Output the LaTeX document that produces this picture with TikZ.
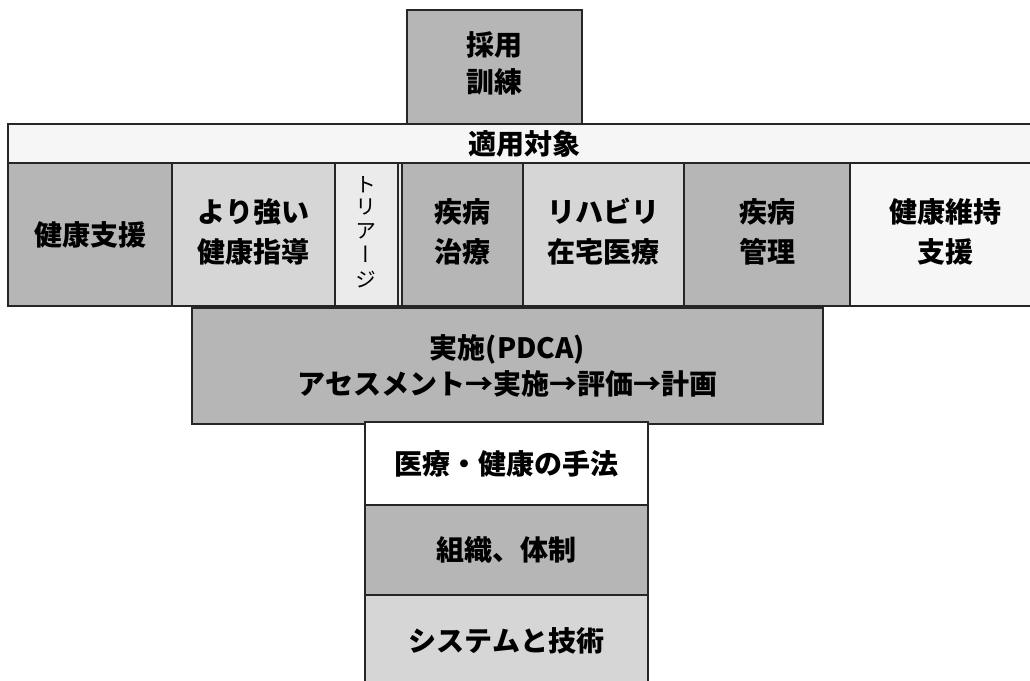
\documentclass[tikz,border=0pt]{standalone}
\usepackage{fontspec}
\newfontfamily\jp{Noto Sans CJK JP}
\newfontfamily\jpv{Noto Sans CJK JP}[RawFeature=+vert]
\definecolor{gmid}{HTML}{B6B6B6}
\definecolor{glight}{HTML}{D6D6D6}
\definecolor{gpale}{HTML}{EBEBEB}
\definecolor{gwhite}{HTML}{F6F6F6}
\definecolor{edge}{HTML}{262626}
\begin{document}
\begin{tikzpicture}[x=1pt,y=-1pt,
  box/.style={draw=edge, line width=1.6pt, inner sep=0pt, align=center,
    font=\jp\bfseries\fontsize{28}{40}\selectfont},
  midbox/.style={box, fill=gmid},
  lightbox/.style={box, fill=glight},
  palebox/.style={box, fill=gpale},
  whitebox/.style={box, fill=gwhite}]
\useasboundingbox (0,0) rectangle (1030,680);
\clip (0,0) rectangle (1030,680);
\fill[fill=white] (0,0) rectangle (1030,680);
% top box
\node[midbox, minimum width=175pt, minimum height=114pt,
  font=\jp\bfseries\fontsize{28}{37}\selectfont] (top) at (494.5,67)
  {\raisebox{-3pt}{\begin{tabular}{@{}c@{}}採用\\訓練\end{tabular}}};
% header
\node[whitebox, minimum width=1032pt, minimum height=39pt] (head) at (524,143.5) {適用対象};
% cells
\node[midbox, minimum width=164pt, minimum height=143pt] (c1) at (90,234.5) {\raisebox{-4pt}{健康支援}};
\node[lightbox, minimum width=163pt, minimum height=143pt] (c2) at (253.5,234.5)
  {\raisebox{-4pt}{\begin{tabular}{@{}c@{}}より強い\\健康指導\end{tabular}}};
\node[palebox, minimum width=67pt, minimum height=143pt,
  font=\jpv\fontsize{21}{26}\selectfont] (tri) at (368.5,234.5)
  {\hspace*{-5pt}\raisebox{-2pt}{\begin{tabular}{@{}c@{}}ト\\[-4pt]リ\\[-2pt]ア\\[-2pt]ー\\[-1pt]ジ\end{tabular}}};
\draw[edge, line width=1.6pt] ([xshift=-5pt]tri.north east) -- ([xshift=-5pt]tri.south east);
\node[midbox, minimum width=121pt, minimum height=143pt] (c4) at (462.5,234.5)
  {\raisebox{-4pt}{\begin{tabular}{@{}c@{}}疾病\\治療\end{tabular}}};
\node[lightbox, minimum width=161pt, minimum height=143pt] (c5) at (603.5,234.5)
  {\raisebox{-4pt}{\begin{tabular}{@{}c@{}}リハビリ\\在宅医療\end{tabular}}};
\node[midbox, minimum width=166pt, minimum height=143pt] (c6) at (767,234.5)
  {\raisebox{-4pt}{\begin{tabular}{@{}c@{}}疾病\\管理\end{tabular}}};
\node[whitebox, minimum width=190pt, minimum height=143pt] (c7) at (945,234.5)
  {\raisebox{-4pt}{\begin{tabular}{@{}c@{}}健康維持\\支援\end{tabular}}};
% PDCA
\node[midbox, minimum width=631pt, minimum height=116pt,
  font=\jp\bfseries\fontsize{28}{36}\selectfont] (pdca) at (507.5,366)
  {実施(PDCA)\\アセスメント→実施→評価→計画};
% stack
\node[box, fill=white, minimum width=283pt, minimum height=83pt] (s1) at (506.5,463.5) {医療・健康の手法};
\node[midbox, minimum width=283pt, minimum height=90pt] (s2) at (506.5,550) {組織、体制};
\node[lightbox, minimum width=283pt, minimum height=92pt] (s3) at (506.5,641) {システムと技術};
\end{tikzpicture}
\end{document}
